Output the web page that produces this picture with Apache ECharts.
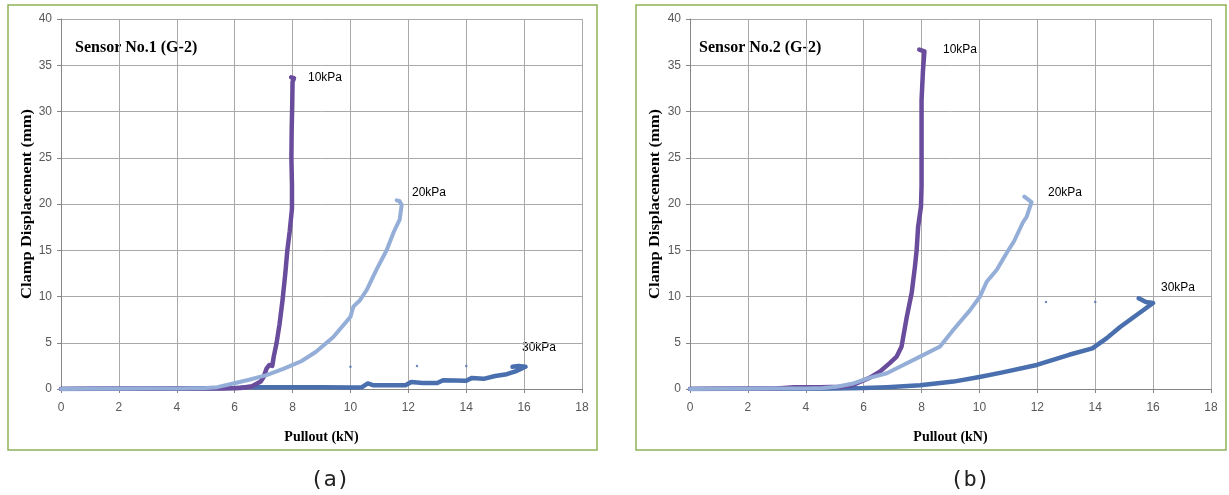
<!DOCTYPE html>
<html>
<head>
<meta charset="utf-8">
<script src="https://cdn.jsdelivr.net/npm/echarts@6/dist/echarts.min.js"></script>
<style>
  html, body { margin: 0; padding: 0; background: #fff; }
  #chart { width: 1229px; height: 495px; }
</style>
</head>
<body>
<div id="chart"></div>
<script>
// x: pullout (kN), y: clamp displacement (mm)
const sensor1_10kPa = [
  [0, 0], [1, 0.02], [2, 0.03], [3, 0.04], [4, 0.05], [4.8, 0.05], [5.5, 0.05], [6.2, 0.1],
  [6.6, 0.3], [6.9, 0.8], [7.0, 1.3], [7.1, 2.2], [7.2, 2.6], [7.3, 2.5], [7.35, 3.5],
  [7.45, 5.0], [7.55, 7.0], [7.65, 9.5], [7.75, 12.5], [7.82, 15.0], [7.9, 17.0],
  [7.98, 19.5], [7.98, 22.0], [7.96, 25.0], [7.97, 28.0], [7.99, 31.0], [8.0, 33.2],
  [8.05, 33.6], [7.95, 33.7]
];
const sensor1_20kPa = [
  [0, 0], [1, 0.02], [2, 0.03], [3, 0.05], [4, 0.06], [5, 0.1], [5.4, 0.2], [5.95, 0.6],
  [6.5, 1.0], [7.1, 1.5], [7.7, 2.2], [8.3, 3.0], [8.8, 4.0], [9.4, 5.6], [10.0, 7.8],
  [10.1, 8.9], [10.33, 9.6], [10.56, 10.7], [10.9, 12.9], [11.25, 15.0], [11.5, 17.0],
  [11.7, 18.3], [11.77, 19.9], [11.7, 20.3], [11.6, 20.4]
];
const sensor1_30kPa = [
  [0, 0], [2, 0.02], [4, 0.05], [6, 0.1], [6.5, 0.2], [8, 0.2], [9, 0.2], [10, 0.15],
  [10.4, 0.2], [10.6, 0.6], [10.8, 0.4], [11.9, 0.4], [12.1, 0.75], [12.5, 0.65],
  [13.0, 0.65], [13.2, 0.95], [14.0, 0.9], [14.2, 1.2], [14.6, 1.1], [15.0, 1.4],
  [15.4, 1.6], [15.7, 1.9], [15.9, 2.2], [16.05, 2.4], [15.8, 2.5], [15.6, 2.4]
];
const sensor1_stray = [[10.0, 2.4], [12.3, 2.5], [14.0, 2.5]];

const sensor2_10kPa = [
  [0, 0], [1, 0.02], [2, 0.03], [3, 0.05], [3.6, 0.2], [4.5, 0.2], [5.2, 0.25], [5.6, 0.4],
  [6.2, 1.2], [6.57, 1.9], [6.9, 2.8], [7.14, 3.5], [7.31, 4.6], [7.49, 7.8], [7.66, 10.4],
  [7.77, 13.2], [7.83, 15.0], [7.88, 17.5], [7.98, 19.7], [8.0, 21.9], [8.0, 24.5],
  [8.0, 27.6], [8.0, 31.2], [8.05, 34.5], [8.1, 36.5], [7.92, 36.7]
];
const sensor2_20kPa = [
  [0, 0], [1, 0.02], [2, 0.03], [3, 0.05], [4, 0.05], [4.6, 0.1], [5.07, 0.25], [5.64, 0.6],
  [6.2, 1.2], [6.8, 1.7], [7.37, 2.6], [7.95, 3.5], [8.64, 4.6], [9.1, 6.4], [9.67, 8.5],
  [10.02, 10.0], [10.25, 11.6], [10.6, 12.9], [10.94, 14.7], [11.2, 16.0], [11.5, 18.0],
  [11.63, 18.6], [11.8, 20.2], [11.55, 20.8]
];
const sensor2_30kPa = [
  [0, 0], [2, 0.02], [4, 0.03], [5, 0.05], [6, 0.1], [6.8, 0.2], [7.95, 0.4], [9.1, 0.8],
  [10.0, 1.3], [10.8, 1.8], [11.98, 2.6], [13.1, 3.7], [13.9, 4.4], [14.4, 5.5], [14.86, 6.7],
  [15.43, 8.0], [16.0, 9.3], [15.75, 9.4], [15.5, 9.8]
];
const sensor2_stray = [[12.3, 9.4], [14.0, 9.4], [14.5, 5.9]];

const seriesNames = ['10kPa', '20kPa', '30kPa'];
const panelTitles = ['Sensor No.1 (G-2)', 'Sensor No.2 (G-2)'];
const captions = ['(a)', '(b)'];
const xTitle = 'Pullout (kN)';
const yTitle = 'Clamp Displacement (mm)';

const purple = '#6a4c9c';
const lightBlue = '#94aed8';
const darkBlue = '#4a6fae';

const gridColor = '#a9a9a9';
const tickFont = { color: '#595959', fontSize: 12, fontFamily: 'Liberation Sans' };
const nameFont = { color: '#000', fontSize: 14, fontWeight: 'bold', fontFamily: 'Liberation Serif' };

function xAxisFor(i) {
  return {
    gridIndex: i, type: 'value', min: 0, max: 18, interval: 2,
    name: xTitle, nameLocation: 'middle', nameGap: 41, nameTextStyle: nameFont,
    axisLine: { lineStyle: { color: '#868686', width: 1 } },
    axisTick: { show: true, length: 4, lineStyle: { color: '#868686' } },
    axisLabel: Object.assign({ margin: 13 }, tickFont),
    splitLine: { show: true, lineStyle: { color: gridColor, width: 1 } }
  };
}
function yAxisFor(i) {
  return {
    gridIndex: i, type: 'value', min: 0, max: 40, interval: 5,
    axisLine: { show: true, lineStyle: { color: '#868686', width: 1 } },
    axisTick: { show: true, length: 4, lineStyle: { color: '#868686' } },
    axisLabel: Object.assign({ margin: 9 }, tickFont),
    splitLine: { show: true, lineStyle: { color: gridColor, width: 1 } }
  };
}
function curve(i, name, data, color, width) {
  return {
    name: name, type: 'line', xAxisIndex: i, yAxisIndex: i, data: data,
    showSymbol: false, smooth: false, animation: false,
    lineStyle: { color: color, width: width, cap: 'round', join: 'round' }
  };
}
function dots(i, data) {
  return {
    type: 'scatter', xAxisIndex: i, yAxisIndex: i, data: data,
    symbolSize: 2.5, itemStyle: { color: darkBlue }, animation: false
  };
}
function label(text, x, y) {
  return { type: 'text', left: x, top: y - 8,
    style: { text: text, fill: '#000', font: '12px "Liberation Sans"' } };
}
function frame(x, w) {
  return { type: 'rect', shape: { x: x, y: 5, width: w, height: 445 },
    style: { fill: 'none', stroke: '#8db356', lineWidth: 1.5 }, z: -1 };
}
function title(text, x) {
  return { type: 'text', left: x, top: 40,
    style: { text: text, fill: '#000', font: 'bold 16px "Liberation Serif"' } };
}
// rotated y title, stretched along its length like the original
function yName(cx) {
  return { type: 'text', x: cx, y: 204, rotation: Math.PI / 2, scaleX: 1.18,
    style: { text: yTitle, fill: '#000', font: 'bold 14px "Liberation Serif"',
      align: 'center', verticalAlign: 'middle' } };
}
function caption(text, cx) {
  return { type: 'text', x: cx, y: 480,
    style: { text: text, fill: '#222', font: '22px "DejaVu Sans Mono"',
      align: 'center', verticalAlign: 'middle' } };
}

const chart = echarts.init(document.getElementById('chart'));
chart.setOption({
  backgroundColor: '#fff',
  animation: false,
  grid: [
    { left: 61, top: 19, width: 521, height: 370 },
    { left: 690, top: 19, width: 521, height: 370 }
  ],
  xAxis: [xAxisFor(0), xAxisFor(1)],
  yAxis: [yAxisFor(0), yAxisFor(1)],
  series: [
    curve(0, seriesNames[2], sensor1_30kPa, darkBlue, 4.5),
    curve(0, seriesNames[0], sensor1_10kPa, purple, 4.5),
    curve(0, seriesNames[1], sensor1_20kPa, lightBlue, 4),
    dots(0, sensor1_stray),
    curve(1, seriesNames[2], sensor2_30kPa, darkBlue, 4.5),
    curve(1, seriesNames[0], sensor2_10kPa, purple, 4.5),
    curve(1, seriesNames[1], sensor2_20kPa, lightBlue, 4),
    dots(1, sensor2_stray)
  ],
  graphic: [
    frame(8, 589), frame(636, 590),
    title(panelTitles[0], 75), title(panelTitles[1], 699),
    yName(27), yName(655),
    label(seriesNames[0], 308, 80), label(seriesNames[1], 412, 195), label(seriesNames[2], 522, 350),
    label(seriesNames[0], 943, 52), label(seriesNames[1], 1048, 195), label(seriesNames[2], 1161, 290),
    caption(captions[0], 330), caption(captions[1], 970)
  ]
});
</script>
</body>
</html>
